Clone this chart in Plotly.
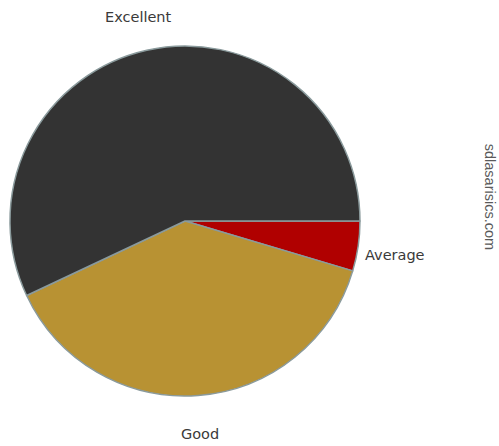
import plotly.graph_objects as go

# Rating shares (percent)
categories = ["Average", "Good", "Excellent"]
shares = [4.6, 38.4, 57.0]
colors = ["#b00000", "#b89233", "#333333"]

# Label placement around the pie (paper coords) and anchoring
label_pos = {
    "Excellent": (0.277, 0.962, "center"),
    "Average": (0.727, 0.428, "left"),
    "Good": (0.401, 0.027, "center"),
}

fig = go.Figure(
    go.Pie(
        labels=categories,
        values=shares,
        sort=False,
        direction="clockwise",
        rotation=90,
        marker=dict(colors=colors, line=dict(color="#8a9a9c", width=1.5)),
        textinfo="none",
        showlegend=False,
        hoverinfo="label+percent",
        domain=dict(x=[0.020, 0.7214], y=[0.1121, 0.8969]),
    )
)

for name in categories:
    x, y, anchor = label_pos[name]
    fig.add_annotation(
        text=name, x=x, y=y, xref="paper", yref="paper",
        xanchor=anchor, yanchor="middle", showarrow=False,
        font=dict(family="DejaVu Sans", size=14.5, color="#3a3a3a"),
    )

fig.add_annotation(
    text="sdlasarisics.com",
    x=0.981, y=0.56, xref="paper", yref="paper",
    xanchor="center", textangle=90, showarrow=False, borderpad=0,
    font=dict(family="Liberation Sans Narrow, Liberation Sans", size=14.5, color="#5a5a5a"),
)

fig.update_layout(
    width=499, height=446,
    margin=dict(l=0, r=0, t=0, b=0),
    paper_bgcolor="white",
    plot_bgcolor="white",
)

fig.write_html("out.html")
